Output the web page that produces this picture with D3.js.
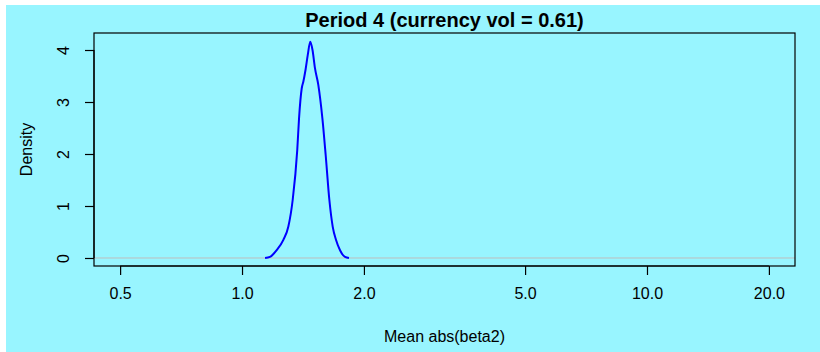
<!DOCTYPE html>
<html>
<head>
<meta charset="utf-8">
<script src="https://cdn.jsdelivr.net/npm/d3@7"></script>
<style>
  body { margin: 0; background: #ffffff; }
  svg text { font-family: "Liberation Sans", Arial, sans-serif; fill: #000; }
</style>
</head>
<body>
<div id="chart"></div>
<script>
// density estimate (x = mean abs(beta2), y = density)
var xValues = [1.140, 1.172, 1.218, 1.265, 1.301, 1.334, 1.369, 1.383, 1.404, 1.417, 1.435, 1.453, 1.474,
               1.493, 1.514, 1.543, 1.579, 1.609, 1.643, 1.675, 1.706, 1.746, 1.796, 1.837];
var densValues = [0, 0.02, 0.15, 0.35, 0.60, 1.12, 2.08, 2.69, 3.26, 3.39, 3.62, 3.90, 4.16,
                  4.00, 3.65, 3.33, 2.69, 1.98, 1.12, 0.60, 0.35, 0.15, 0.02, 0];
var xTicks = [0.5, 1, 2, 5, 10, 20];
var xTickLabels = ["0.5", "1.0", "2.0", "5.0", "10.0", "20.0"];
var yTicks = [0, 1, 2, 3, 4];
var title = "Period 4 (currency vol = 0.61)";
var xLabel = "Mean abs(beta2)";
var yLabel = "Density";

var W = 820, H = 352;
var box = { left: 94, right: 795, top: 33, bottom: 266 };

var svg = d3.select("#chart").append("svg").attr("width", W).attr("height", H);

svg.append("rect").attr("x", 6).attr("y", 5).attr("width", W - 6).attr("height", H - 5)
    .attr("fill", "#98f5ff");

var x = d3.scaleLog().domain([0.431, 23.2]).range([box.left, box.right]);
var y = d3.scaleLinear().domain([-0.154, 4.327]).range([box.bottom, box.top]);

// zero line
svg.append("line")
    .attr("x1", box.left).attr("x2", box.right)
    .attr("y1", y(0)).attr("y2", y(0))
    .attr("stroke", "#bebebe").attr("stroke-width", 1);

var pts = xValues.map(function (v, i) { return [v, densValues[i]]; });
var line = d3.line()
    .x(function (d) { return x(d[0]); })
    .y(function (d) { return y(d[1]); })
    .curve(d3.curveMonotoneX);

svg.append("path").datum(pts)
    .attr("d", line)
    .attr("fill", "none")
    .attr("stroke", "#0000ff")
    .attr("stroke-width", 2);

// box
svg.append("rect")
    .attr("x", box.left).attr("y", box.top)
    .attr("width", box.right - box.left).attr("height", box.bottom - box.top)
    .attr("fill", "none").attr("stroke", "#000").attr("stroke-width", 1.2);

// x axis
var xAxis = svg.append("g").attr("transform", "translate(0," + box.bottom + ")")
    .call(d3.axisBottom(x).tickValues(xTicks).tickSize(9).tickPadding(13)
        .tickFormat(function (d, i) { return xTickLabels[i]; }));
xAxis.select(".domain").attr("d", "M" + x(xTicks[0]) + ",0H" + x(xTicks[xTicks.length - 1]))
    .attr("stroke-width", 1.2);
xAxis.selectAll(".tick line").attr("stroke-width", 1.2);
xAxis.selectAll("text").attr("font-size", 16).attr("font-family", "Liberation Sans, Arial, sans-serif");

// y axis
var yAxis = svg.append("g").attr("transform", "translate(" + box.left + ",0)")
    .call(d3.axisLeft(y).tickValues(yTicks).tickSize(9).tickFormat(d3.format("d")));
yAxis.select(".domain").attr("d", "M0," + y(0) + "V" + y(4)).attr("stroke-width", 1.2);
yAxis.selectAll(".tick line").attr("stroke-width", 1.2);
yAxis.selectAll("text")
    .attr("font-size", 16).attr("font-family", "Liberation Sans, Arial, sans-serif")
    .attr("x", null).attr("dy", null)
    .attr("text-anchor", "middle")
    .attr("transform", "translate(-29,0) rotate(-90)")
    .attr("dominant-baseline", "middle");

// labels
svg.append("text")
    .attr("x", (box.left + box.right) / 2).attr("y", 27)
    .attr("text-anchor", "middle").attr("font-size", 20).attr("font-weight", "bold")
    .text(title);

svg.append("text")
    .attr("x", (box.left + box.right) / 2).attr("y", 342)
    .attr("text-anchor", "middle").attr("font-size", 16)
    .text(xLabel);

svg.append("text")
    .attr("transform", "translate(32," + (box.top + box.bottom) / 2 + ") rotate(-90)")
    .attr("text-anchor", "middle").attr("font-size", 16)
    .text(yLabel);
</script>
</body>
</html>
